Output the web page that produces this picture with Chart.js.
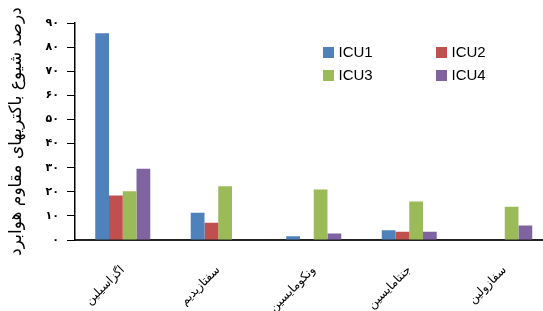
<!DOCTYPE html>
<html><head><meta charset="utf-8">
<script src="https://cdn.jsdelivr.net/npm/chart.js@4/dist/chart.umd.min.js"></script>
<style>
html,body{margin:0;padding:0;overflow:hidden;background:#fff;width:543px;height:311px}
#wrap{position:relative;width:555px;height:311px}
</style></head><body><div id="wrap"><canvas id="c" width="555" height="311" style="width:555px;height:311px"></canvas></div>
<script>
const categories = ["اگزاسیلین", "سفتازیدیم", "ونکومایسین", "جنتامایسین", "سفازولین"];
const seriesNames = ["ICU1", "ICU2", "ICU3", "ICU4"];
const icu1 = [85.7, 11.3, 1.6, 4.0, 0];
const icu2 = [18.5, 7.2, 0, 3.4, 0];
const icu3 = [20.2, 22.3, 20.9, 16.0, 13.8];
const icu4 = [29.6, 0, 2.7, 3.4, 6.0];
const yTicks = [0, 10, 20, 30, 40, 50, 60, 70, 80, 90];
const yTickLabels = ["۰", "۱۰", "۲۰", "۳۰", "۴۰", "۵۰", "۶۰", "۷۰", "۸۰", "۹۰"];
const yTitle = "درصد شیوع باکتریهای مقاوم هوابرد";
const seriesColors = ["#4F81BD", "#C0504D", "#9BBB59", "#8064A2"];

const seriesValues = [icu1, icu2, icu3, icu4];

const legendPlugin = {
  id: 'gridLegend',
  afterDraw(chart) {
    const ctx = chart.ctx;
    const pos = [[323, 47], [436, 47], [323, 70], [436, 70]];
    ctx.save();
    ctx.font = '15px "Liberation Sans", Arial, sans-serif';
    ctx.textBaseline = 'middle';
    ctx.textAlign = 'left';
    chart.data.datasets.forEach((ds, i) => {
      const [x, y] = pos[i];
      ctx.fillStyle = ds.backgroundColor;
      ctx.fillRect(x, y, 11, 11);
      ctx.fillStyle = '#000';
      ctx.fillText(ds.label, x + 15.5, y + 6);
    });
    ctx.restore();
  }
};

new Chart(document.getElementById('c'), {
  type: 'bar',
  data: {
    labels: categories,
    datasets: seriesNames.map((n, i) => ({
      label: n,
      data: seriesValues[i],
      backgroundColor: seriesColors[i],
      borderWidth: 0,
      categoryPercentage: 0.576,
      barPercentage: 1
    }))
  },
  options: {
    responsive: false,
    devicePixelRatio: 1,
    animation: false,
    layout: { padding: { top: 23, right: 2.5, left: 0, bottom: 0 } },
    plugins: { legend: { display: false }, tooltip: { enabled: false } },
    scales: {
      x: {
        grid: { display: false },
        border: { display: true, color: '#222', width: 2 },
        ticks: {
          minRotation: 45, maxRotation: 45, padding: 15,
          color: '#000',
          font: { family: '"DejaVu Sans", sans-serif', size: 12 }
        },
        afterFit(s) { s.height = 71; }
      },
      y: {
        min: 0, max: 90,
        afterBuildTicks(s) { s.ticks = yTicks.map(v => ({ value: v })); },
        grid: { drawOnChartArea: false, drawTicks: true, tickLength: 8, color: '#000', tickColor: '#000' },
        border: { display: true, color: '#000', width: 1.5 },
        ticks: {
          padding: 8, color: '#000',
          font: { family: '"DejaVu Sans", sans-serif', size: 11, weight: 'bold' },
          callback: (v) => yTickLabels[yTicks.indexOf(v)]
        },
        title: {
          display: true, text: yTitle, color: '#000',
          font: { family: '"DejaVu Sans", sans-serif', size: 17 },
          padding: { top: 6, bottom: 0 }
        },
        afterFit(s) { s.width = 75; }
      }
    }
  },
  plugins: [legendPlugin]
});
</script></body></html>
